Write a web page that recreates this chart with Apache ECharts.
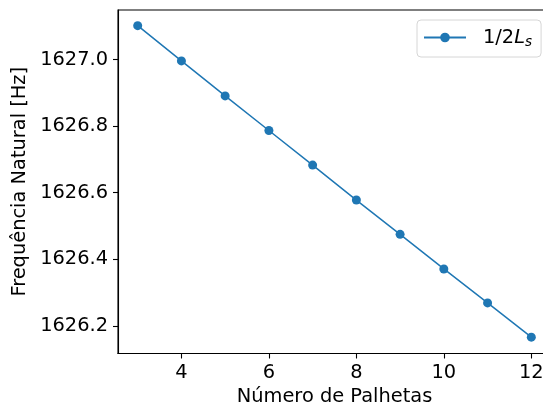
<!DOCTYPE html>
<html>
<head>
<meta charset="utf-8">
<script src="https://cdn.jsdelivr.net/npm/echarts@6/dist/echarts.min.js"></script>
<style>
html,body{margin:0;padding:0;background:#fff;}
#chart{width:543px;height:403px;}
</style>
</head>
<body>
<div id="chart"></div>
<script>
var palhetas = [3, 4, 5, 6, 7, 8, 9, 10, 11, 12];
var frequencia = [1627.102, 1626.996, 1626.891, 1626.787, 1626.683, 1626.578, 1626.475, 1626.371, 1626.269, 1626.166];
var xTicks = [4, 6, 8, 10, 12];
var yTicks = [1626.2, 1626.4, 1626.6, 1626.8, 1627.0];
var seriesName = '1/2L_s';
var xTitle = 'Número de Palhetas';
var yTitle = 'Frequência Natural [Hz]';

var FONT = 'DejaVu Sans';
var FS = 19.4;
var chart = echarts.init(document.getElementById('chart'), null, {renderer: 'canvas'});
var data = palhetas.map(function (x, i) { return [x, frequencia[i]]; });

chart.setOption({
  animation: false,
  backgroundColor: '#ffffff',
  textStyle: {fontFamily: FONT},
  grid: {
    left: 118, top: 10, right: -8, bottom: 49.5,
    outerBoundsMode: 'none', containLabel: false,
    show: true, borderColor: '#000', borderWidth: 1.1, backgroundColor: 'transparent'
  },
  legend: {
    left: 417, top: 20,
    padding: [8, 9, 8, 6],
    borderColor: '#d6d6d6', borderWidth: 1, borderRadius: 4,
    backgroundColor: '#fff',
    itemWidth: 42, itemHeight: 12, itemGap: 0,
    data: [{name: seriesName}],
    formatter: function () { return '1/2{i|L}{s|s}'; },
    textStyle: {
      fontFamily: FONT, fontSize: FS, color: '#000', padding: [0, 0, 0, 12],
      rich: {
        i: {fontFamily: FONT, fontSize: FS, fontStyle: 'italic', color: '#000'},
        s: {fontFamily: FONT, fontSize: 13.6, fontStyle: 'italic', color: '#000', padding: [9, 0, 0, 0]}
      }
    }
  },
  xAxis: {
    type: 'value', min: 2.55, max: 12.45,
    name: xTitle, nameLocation: 'middle', nameGap: 25,
    nameTextStyle: {fontFamily: FONT, fontSize: FS, color: '#000'},
    axisLine: {show: true, onZero: false, lineStyle: {color: '#000', width: 1.1}},
    axisTick: {show: true, inside: false, length: 5, lineStyle: {color: '#000', width: 1.1}, customValues: xTicks},
    axisLabel: {fontFamily: FONT, fontSize: FS, color: '#000', margin: 10, customValues: xTicks,
      formatter: function (v) { return String(v); }},
    splitLine: {show: false}
  },
  yAxis: {
    type: 'value', min: 1626.117, max: 1627.149,
    name: yTitle, nameLocation: 'middle', nameGap: 84, nameRotate: 90,
    nameTextStyle: {fontFamily: FONT, fontSize: FS, color: '#000'},
    axisLine: {show: true, onZero: false, lineStyle: {color: '#000', width: 1.1}},
    axisTick: {show: true, inside: false, length: 5, lineStyle: {color: '#000', width: 1.1}, customValues: yTicks},
    axisLabel: {fontFamily: FONT, fontSize: FS, color: '#000', margin: 10, customValues: yTicks,
      formatter: function (v) { return Number(v).toFixed(1); }},
    splitLine: {show: false}
  },
  series: [{
    name: seriesName,
    type: 'line',
    data: data,
    symbol: 'circle', symbolSize: 9,
    lineStyle: {color: '#1f77b4', width: 1.5},
    itemStyle: {color: '#1f77b4'}
  }]
});
</script>
</body>
</html>
